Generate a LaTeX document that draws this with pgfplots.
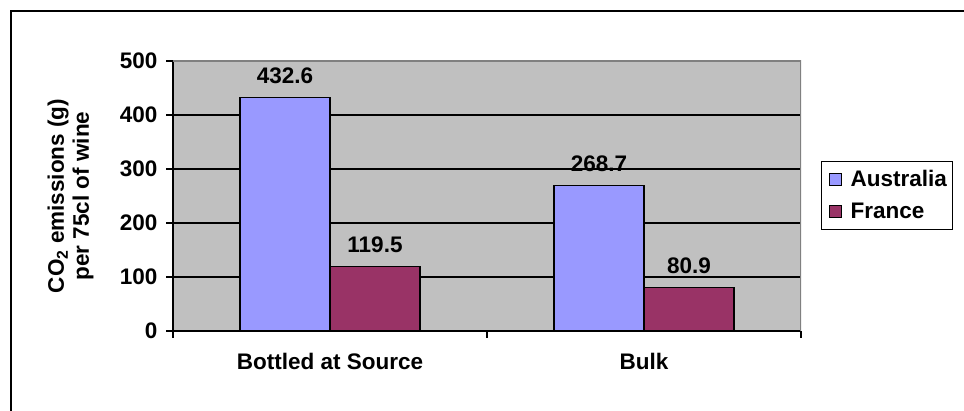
\documentclass[border=0pt]{standalone}
\usepackage{pgfplots}
\pgfplotsset{compat=1.18}
\usepackage{fontspec}
\setmainfont{Liberation Sans}

\definecolor{ausblue}{HTML}{9999FF}
\definecolor{frwine}{HTML}{993366}
\definecolor{plotgray}{HTML}{C0C0C0}
\definecolor{framegray}{HTML}{808080}

\begin{document}
\begin{tikzpicture}
\useasboundingbox (0pt,0pt) rectangle (964pt,411pt);
% outer chart frame (left and top edges)
\draw[line width=2.6pt] (11pt,-5pt) -- (11pt,400pt) -- (970pt,400pt);
\begin{axis}[
  at={(173pt,80pt)}, anchor=south west,
  scale only axis, width=628pt, height=270pt,
  font=\fontsize{22.5}{25}\selectfont\bfseries,
  /pgf/number format/assume math mode=true,
  ybar=0pt, bar width=0.2866,
  xmin=-0.5, xmax=1.5, ymin=0, ymax=500,
  xtick={0,1}, xticklabels={Bottled at Source,Bulk},
  major x tick style={draw=none},
  minor xtick={-0.5,0.5,1.5},
  minor tick length=7pt,
  ytick={0,100,200,300,400,500},
  major tick length=7pt,
  tick align=outside,
  tick style={black, line width=1.2pt},
  xtick pos=bottom, ytick pos=left,
  ymajorgrids, grid style={black, line width=1.3pt},
  axis background/.style={fill=plotgray},
  axis x line*=bottom, axis y line*=left,
  x axis line style={black, line width=1.5pt, -},
  y axis line style={black, line width=1.5pt, -},
  xticklabel style={yshift=-12pt},
  yticklabel style={xshift=-5pt},
  ylabel={CO\textsubscript{2} emissions (g)\\per 75cl of wine},
  ylabel style={at={(axis description cs:-0.163,0.5)}, anchor=center, align=center},
  nodes near coords,
  nodes near coords style={anchor=south, yshift=10pt, /pgf/number format/.cd, fixed, fixed zerofill, precision=1},
  legend style={at={(1.0318,0.6296)}, anchor=north west, draw=black, line width=1.2pt,
    inner xsep=4pt, inner ysep=7pt, row sep=11pt, cells={anchor=west}},
  legend image code/.code={%
    \path[draw=none, fill=none] (0pt,0pt) -- (23pt,0pt);
    \draw[#1, draw=black, line width=1.2pt] (4pt,-6pt) rectangle (16pt,6pt);},
]
% plot frame on top and right
\draw[framegray, line width=1.5pt] (rel axis cs:0,1) -- (rel axis cs:1,1) -- (rel axis cs:1,0);
\addplot[fill=ausblue, draw=black, line width=1.2pt] coordinates {(0,432.6) (1,268.7)};
\addplot[fill=frwine, draw=black, line width=1.2pt] coordinates {(0,119.5) (1,80.9)};
\legend{Australia,France}
\end{axis}
\end{tikzpicture}
\end{document}
